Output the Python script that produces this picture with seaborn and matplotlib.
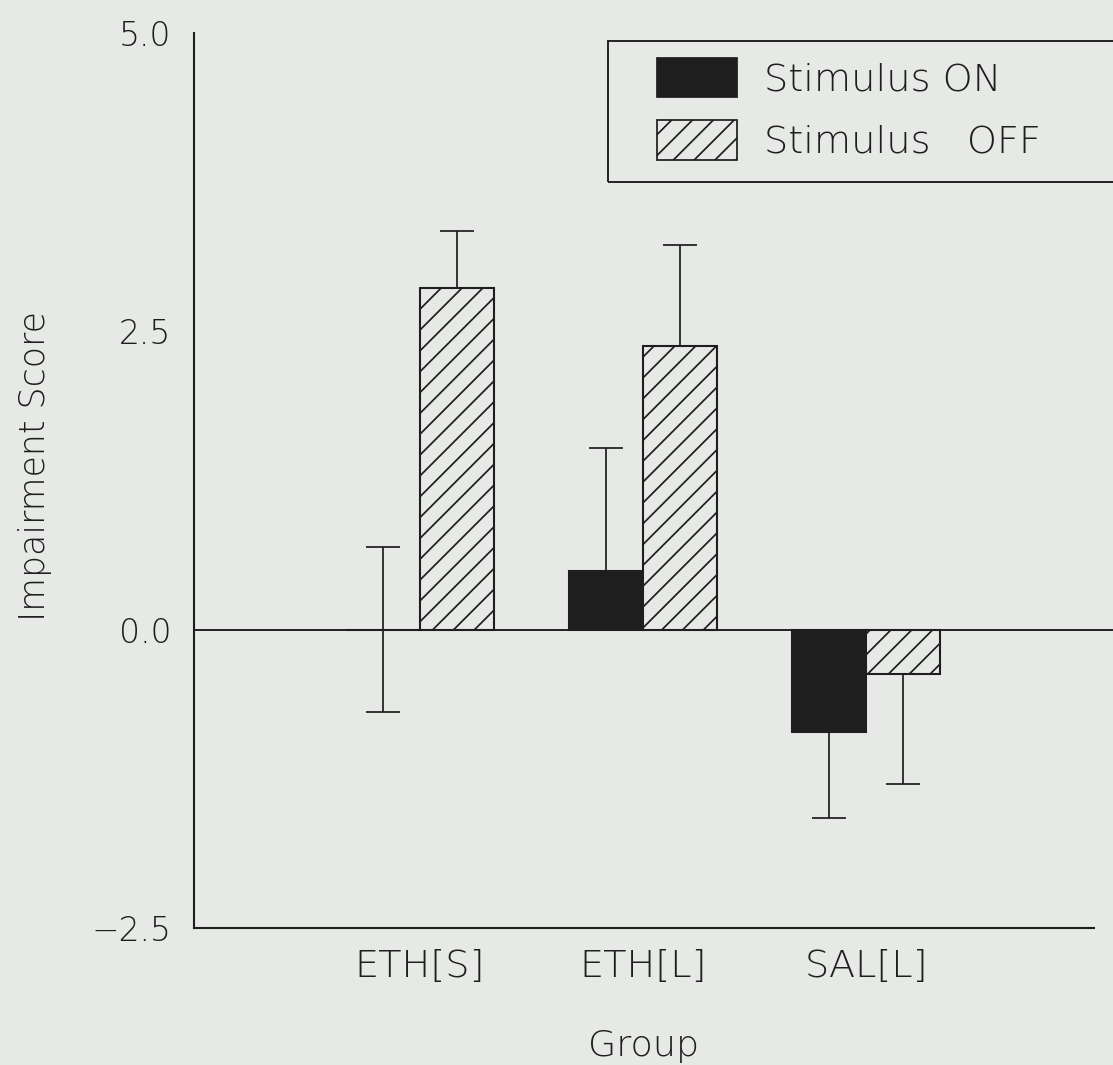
import matplotlib
matplotlib.use("Agg")
import matplotlib.pyplot as plt
import matplotlib.patches as mpatches
import seaborn as sns
import pandas as pd

groups = ["ETH[S]", "ETH[L]", "SAL[L]"]
stim_levels = ["Stimulus ON", "Stimulus   OFF"]
on_mean = [0.0, 0.49, -0.86]
on_err = [0.69, 1.03, 0.72]
off_mean = [2.86, 2.38, -0.37]
off_err = [0.48, 0.84, 0.92]

BG = "#e6e9e5"
INK = "#1e1e1e"

sns.set_style("white")
plt.rcParams["font.family"] = ["DejaVu Sans"]
plt.rcParams["font.weight"] = "light"
plt.rcParams["axes.labelweight"] = "light"
plt.rcParams["hatch.linewidth"] = 1.0
plt.rcParams["hatch.color"] = INK

df = pd.DataFrame({
    "group": groups * 2,
    "stimulus": [stim_levels[0]] * 3 + [stim_levels[1]] * 3,
    "score": on_mean + off_mean,
})

fig = plt.figure(figsize=(1113 / 125, 1065 / 125), dpi=125, facecolor=BG)
ax = fig.add_axes([194 / 1113, 1 - 928 / 1065, 900 / 1113, 895 / 1065])
ax.set_facecolor(BG)

sns.barplot(data=df, x="group", y="score", hue="stimulus", hue_order=stim_levels,
            order=groups, palette={stim_levels[0]: INK, stim_levels[1]: BG},
            width=0.664, errorbar=None, edgecolor=INK, linewidth=1.2,
            saturation=1, ax=ax)

for bar in ax.containers[1]:
    bar.set_hatch("//")

# one-sided error bars, drawn away from zero (both ways when the mean is zero)
for cont, means, errs in zip(ax.containers, [on_mean, off_mean], [on_err, off_err]):
    xs = [b.get_x() + b.get_width() / 2 for b in cont]
    lo = [e if m <= 0 else 0 for m, e in zip(means, errs)]
    hi = [e if m >= 0 else 0 for m, e in zip(means, errs)]
    ax.errorbar(xs, means, yerr=[lo, hi], fmt="none", ecolor=INK,
                elinewidth=1.0, capsize=10, capthick=1.0, zorder=3)

ax.axhline(0, xmin=0, xmax=1.03, color=INK, linewidth=1.1, clip_on=False, zorder=2)

ax.set_xlim(-1.013, 3.022)
ax.set_ylim(-2.5, 5.0)
ax.set_yticks([-2.5, 0.0, 2.5, 5.0])
ax.set_yticklabels(["\u22122.5", "0.0", "2.5", "5.0"])

for s in ["top", "right"]:
    ax.spines[s].set_visible(False)
for s in ["left", "bottom"]:
    ax.spines[s].set_color(INK)
    ax.spines[s].set_linewidth(1.2)

ax.tick_params(axis="y", direction="in", length=9, width=1.1, color=INK,
               labelsize=19, labelcolor=INK, pad=13)
ax.tick_params(axis="x", length=0, labelsize=22, labelcolor=INK, pad=12)

ax.set_xlabel("Group", fontsize=21, color=INK, labelpad=26)
ax.set_ylabel("Impairment Score", fontsize=20, color=INK)
ax.yaxis.set_label_coords(-0.158, 0.516)

ax.get_legend().remove()
handles = [
    mpatches.Patch(facecolor=INK, edgecolor=INK, linewidth=1.0),
    mpatches.Patch(facecolor=BG, edgecolor=INK, linewidth=1.0, hatch="//"),
]
fig.legend(handles, stim_levels, loc="upper left",
           bbox_to_anchor=(657 / 1113, 1 - 58 / 1065), frameon=False,
           fontsize=22, labelcolor=INK, borderpad=0, borderaxespad=0,
           handlelength=2.1, handleheight=1.2, handletextpad=0.7,
           labelspacing=0.6)

frame = mpatches.Rectangle((608 / 1113, 1 - 182 / 1065), 0.6, 141 / 1065,
                           transform=fig.transFigure, fill=False,
                           edgecolor=INK, linewidth=1.1)
fig.patches.append(frame)

fig.savefig("out.png", dpi=125, facecolor=BG)
